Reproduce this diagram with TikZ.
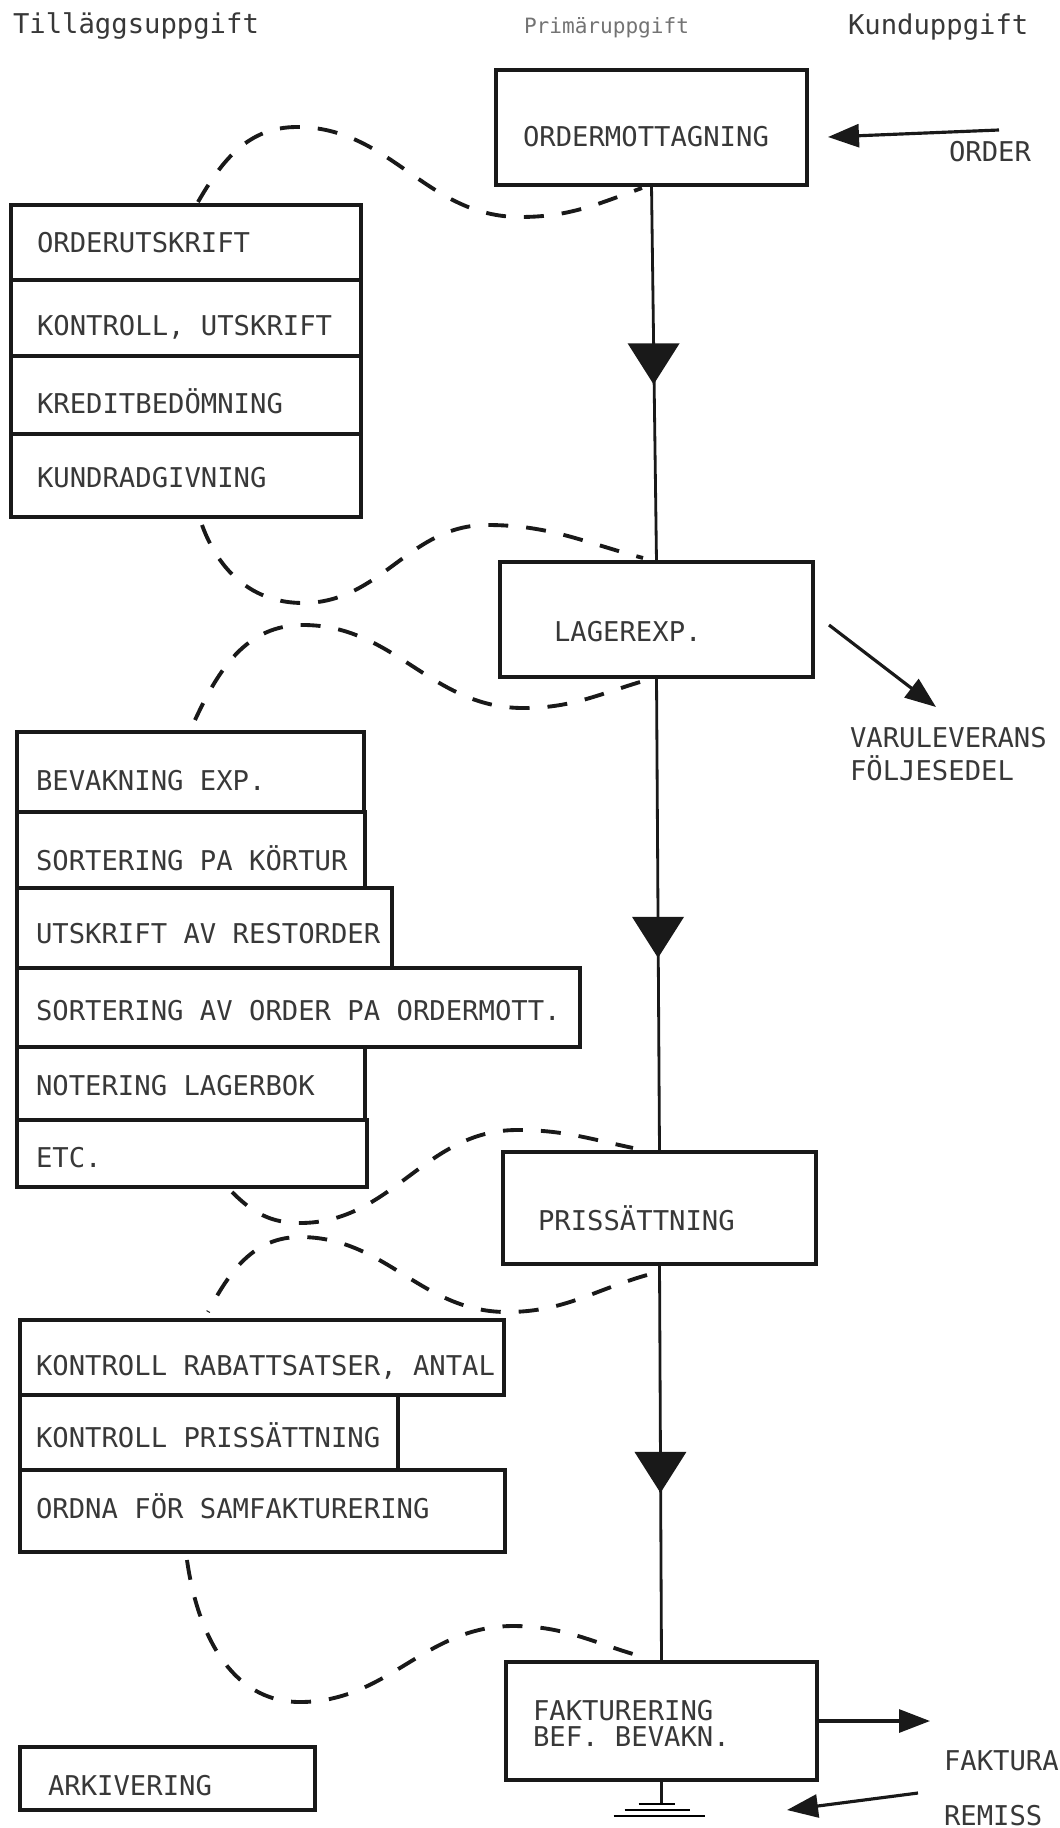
\documentclass[tikz,border=0pt]{standalone}
\usepackage{fontspec}
\setmonofont{DejaVu Sans Mono}
\usetikzlibrary{arrows.meta,calc}

\begin{document}
\begin{tikzpicture}[x=0.02cm,y=-0.02cm,
  every node/.style={inner sep=0pt, outer sep=0pt},
  tw/.style={font=\ttfamily\fontsize{15.5}{15.5}\selectfont, text=black!78, anchor=base west},
  twsmall/.style={font=\ttfamily\fontsize{12}{12}\selectfont, text=black!55, anchor=base west},
  box/.style={draw=black!90, line width=1.8pt, anchor=north west},
  flow/.style={draw=black!90, line width=1.6pt},
  link/.style={draw=black!90, line width=2.2pt, dash pattern=on 0.4cm off 0.36cm},
  arr/.style={draw=black!90, line width=1.8pt, -{Triangle[length=0.62cm,width=0.46cm]}},
  wedge/.style={fill=black!90},
]
\useasboundingbox (0,0) rectangle (1059,1828);

% column headings
\node[tw] (hTill) at (13,34) {Tilläggsuppgift};
\node[twsmall] (hPrim) at (524,34) {Primäruppgift};
\node[tw] (hKund) at (848,35) {Kunduppgift};

% primary tasks
\node[box, minimum width=311*0.02cm, minimum height=115*0.02cm] (b1) at (496,70) {};
\node[tw] (b1t) at (523,147) {ORDERMOTTAGNING};
\node[box, minimum width=313*0.02cm, minimum height=115*0.02cm] (b2) at (500,562) {};
\node[tw] (b2t) at (554,641) {LAGEREXP.};
\node[box, minimum width=313*0.02cm, minimum height=112*0.02cm] (b3) at (503,1152) {};
\node[tw] (b3t) at (538,1230) {PRISSÄTTNING};
\node[box, minimum width=311*0.02cm, minimum height=118*0.02cm] (b4) at (506,1662) {};
\node[tw] (b4t) at (533,1720) {FAKTURERING};
\node[tw] (b4u) at (533,1746) {BEF. BEVAKN.};

% additional tasks, group 1
\node[box, minimum width=350*0.02cm, minimum height=75*0.02cm] (r11) at (11,205) {};
\node[box, minimum width=350*0.02cm, minimum height=76*0.02cm] (r12) at (11,280) {};
\node[box, minimum width=350*0.02cm, minimum height=78*0.02cm] (r13) at (11,356) {};
\node[box, minimum width=350*0.02cm, minimum height=83*0.02cm] (r14) at (11,434) {};
\node[tw] (r11t) at (37,253) {ORDERUTSKRIFT};
\node[tw] (r12t) at (37,335) {KONTROLL, UTSKRIFT};
\node[tw] (r13t) at (37,413) {KREDITBEDÖMNING};
\node[tw] (r14t) at (37,487) {KUNDRADGIVNING};

% additional tasks, group 2
\node[box, minimum width=347*0.02cm, minimum height=80*0.02cm] (r21) at (17,732) {};
\node[box, minimum width=348*0.02cm, minimum height=76*0.02cm] (r22) at (17,812) {};
\node[box, minimum width=375*0.02cm, minimum height=80*0.02cm] (r23) at (17,888) {};
\node[box, minimum width=563*0.02cm, minimum height=79*0.02cm] (r24) at (17,968) {};
\node[box, minimum width=348*0.02cm, minimum height=73*0.02cm] (r25) at (17,1047) {};
\node[box, minimum width=350*0.02cm, minimum height=67*0.02cm] (r26) at (17,1120) {};
\node[tw] (r21t) at (36,790) {BEVAKNING EXP.};
\node[tw] (r22t) at (36,870) {SORTERING PA KÖRTUR};
\node[tw] (r23t) at (36,943) {UTSKRIFT AV RESTORDER};
\node[tw] (r24t) at (36,1020) {SORTERING AV ORDER PA ORDERMOTT.};
\node[tw] (r25t) at (36,1095) {NOTERING LAGERBOK};
\node[tw] (r26t) at (36,1167) {ETC.};

% additional tasks, group 3
\node[box, minimum width=484*0.02cm, minimum height=75*0.02cm] (r31) at (20,1320) {};
\node[box, minimum width=378*0.02cm, minimum height=75*0.02cm] (r32) at (20,1395) {};
\node[box, minimum width=485*0.02cm, minimum height=82*0.02cm] (r33) at (20,1470) {};
\node[tw] (r31t) at (36,1375) {KONTROLL RABATTSATSER, ANTAL};
\node[tw] (r32t) at (36,1447) {KONTROLL PRISSÄTTNING};
\node[tw] (r33t) at (36,1518) {ORDNA FÖR SAMFAKTURERING};

% archive
\node[box, minimum width=295*0.02cm, minimum height=63*0.02cm] (arch) at (20,1747) {};
\node[tw] (archt) at (48,1795) {ARKIVERING};

% main flow line with direction wedges
\draw[flow] (b1.south) -- (b2.north);
\draw[flow] (b2.south) -- (b3.north);
\draw[flow] (b3.south) -- (b4.north);
\coordinate (v1) at ($(b1.south)!0.42!(b2.north)$);
\coordinate (v2) at ($(b2.south)!0.505!(b3.north)$);
\coordinate (v3) at ($(b3.south)!0.472!(b4.north)$);
\foreach \v in {v1,v2,v3}
  \fill[wedge] (\v) ++(-26,0) -- ++(52,0) -- ++(-26,41) -- cycle;

% ground symbol under invoicing
\coordinate (gnd) at ($(b4.south)+(0,24)$);
\draw[flow] (b4.south) -- (gnd);
\draw[line width=1.5pt] ($(gnd)+(-23,0)$) -- ++(36,0);
\draw[line width=1.5pt] ($(gnd)+(-37,6)$) -- ++(65,0);
\draw[line width=1.5pt] ($(gnd)+(-48,12)$) -- ++(91,0);

% customer side
\node[tw] (ord) at (949,162) {ORDER};
\coordinate (ordTail) at (999,130);
\coordinate (ordTip) at (828,137);
\draw[arr] (ordTail) -- (ordTip);

\node[tw] (varu) at (850,747) {VARULEVERANS};
\node[tw] (folj) at (850,780) {FÖLJESEDEL};
\coordinate (varuTail) at (829,625);
\coordinate (varuTip) at (936,707);
\draw[arr] (varuTail) -- (varuTip);

\node[tw] (fakt) at (944,1770) {FAKTURA};
\draw[arr] (b4.east) -- ++(113,0);

\node[tw] (rem) at (944,1825) {REMISS};
\coordinate (remTail) at (918,1793);
\coordinate (remTip) at (787,1810);
\draw[arr] (remTail) -- (remTip);

% dashed links between additional tasks and primary tasks
\coordinate (c1a) at (198,202);
\coordinate (c1b) at (642,188);
\draw[link] (c1a) to[out=60,in=180] (297,127) to[out=0,in=180] (520,217) to[out=0,in=200] (c1b);

\coordinate (cAa) at (202,525);
\coordinate (cAb) at (643,558);
\draw[link] (cAa) to[out=-70,in=180] (303,603) to[out=0,in=180] (487,525) to[out=0,in=165] (cAb);

\coordinate (cBa) at (640,682);
\coordinate (cBb) at (195,720);
\draw[link] (cBa) to[out=197,in=0] (523,708) to[out=180,in=0] (303,625) to[out=180,in=65] (cBb);

\coordinate (cCa) at (232,1192);
\coordinate (cCb) at (633,1148);
\draw[link] (cCa) to[out=-45,in=180] (300,1223) to[out=0,in=180] (517,1130) to[out=0,in=168] (cCb);

\coordinate (cDa) at (647,1275);
\coordinate (cDb) at (208,1312);
\draw[link] (cDa) to[out=196,in=0] (507,1312) to[out=180,in=0] (300,1237) to[out=180,in=62] (cDb);

\coordinate (cEa) at (187,1560);
\coordinate (cEb) at (647,1658);
\draw[link] (cEa) to[out=-82,in=180] (300,1702) to[out=0,in=180] (513,1626) to[out=0,in=165] (cEb);

\end{tikzpicture}
\end{document}
